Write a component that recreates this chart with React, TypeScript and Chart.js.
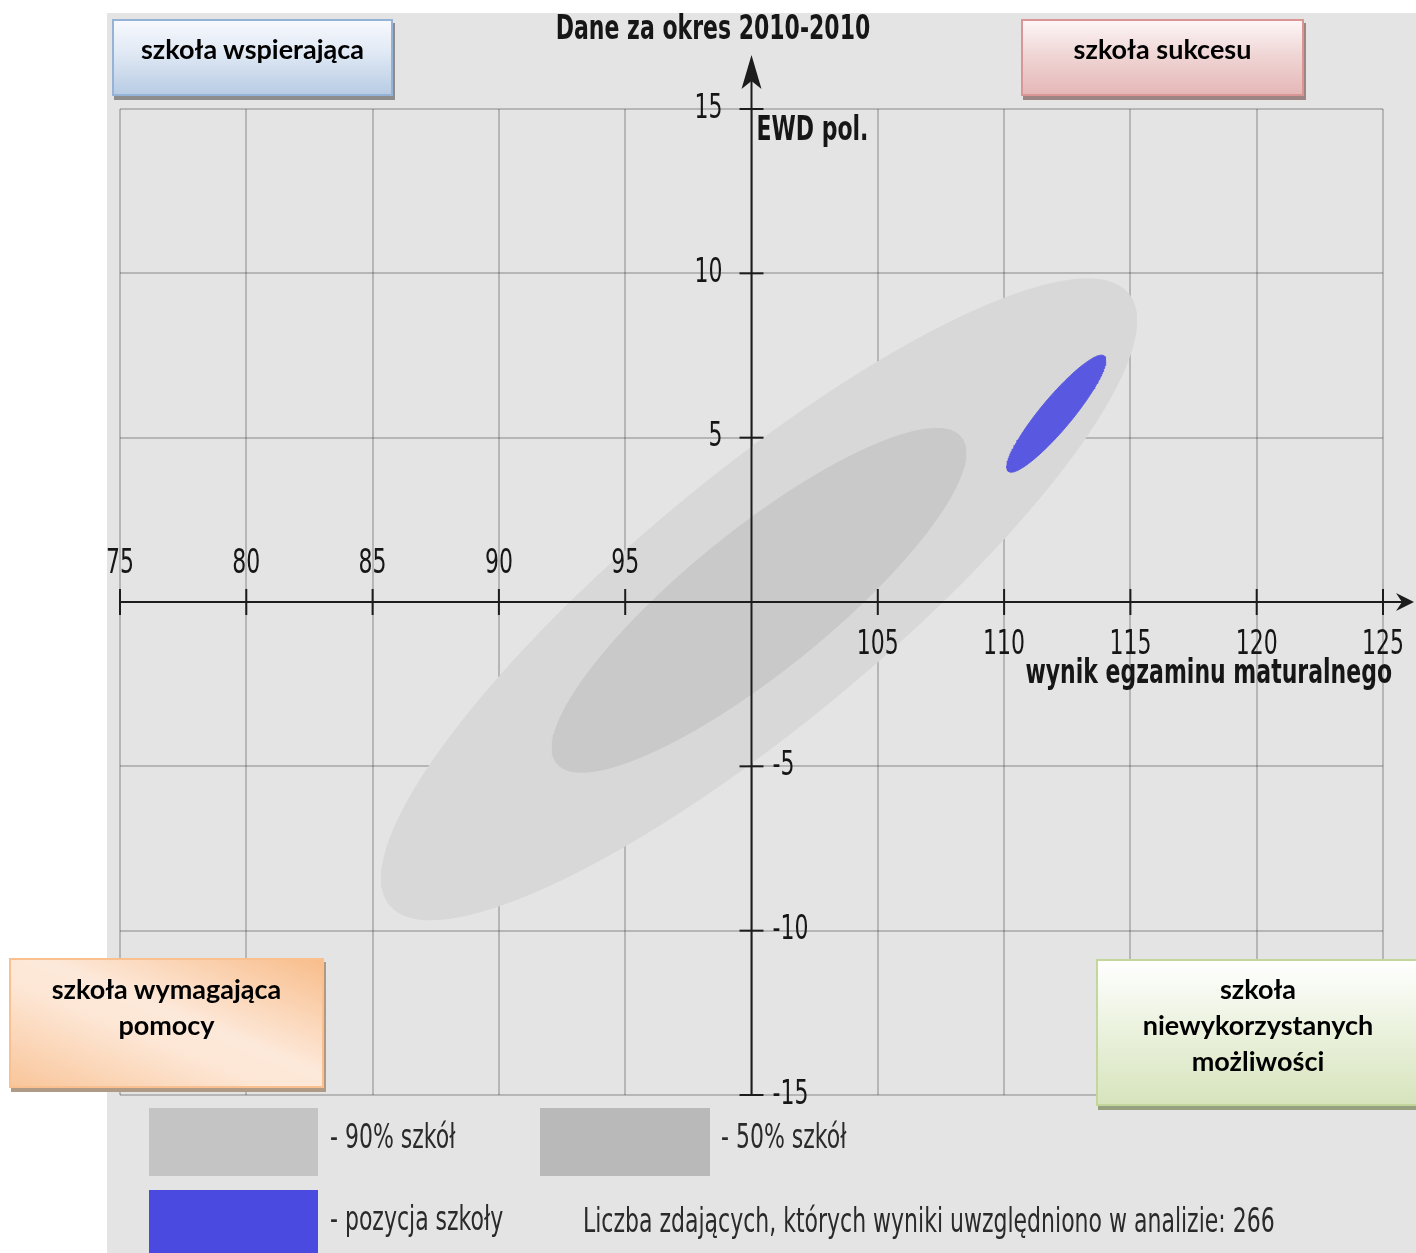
import React, { useEffect, useRef } from 'react';
import { Chart, registerables } from 'chart.js';

Chart.register(...registerables);

// ---- data ----
const xTicks = [75, 80, 85, 90, 95, 100, 105, 110, 115, 120, 125];
const yTicks = [-15, -10, -5, 0, 5, 10, 15];
const seriesNames = ['pozycja szkoły', '50% szkół', '90% szkół'];
const centerX = [112.07, 100.3, 100.3];
const centerY = [5.73, 0.05, 0.08];
const halfWidthX = [1.96, 8.19, 14.95];
const halfHeightY = [1.78, 5.23, 9.75];
const correlation = [0.912, 0.858, 0.87];
const studentCount = 266;
const chartTitle = 'Dane za okres 2010-2010';
const xAxisTitle = 'wynik egzaminu maturalnego';
const yAxisTitle = 'EWD pol.';
const cornerLabels = [
  'szkoła wspierająca',
  'szkoła sukcesu',
  'szkoła wymagająca pomocy',
  'szkoła niewykorzystanych możliwości',
];

const fillColors = ['#5858e0', '#c9c9c9', '#d8d8d8'];
const legendColors = ['#4a4ae0', '#b9b9b9', '#c4c4c4'];

function ellipseOutline(i: number) {
  const pts: { x: number; y: number }[] = [];
  const r = correlation[i];
  const k = Math.sqrt(1 - r * r);
  const steps = 240;
  for (let j = 0; j <= steps; j++) {
    const t = (j / steps) * Math.PI * 2;
    pts.push({
      x: centerX[i] + halfWidthX[i] * Math.cos(t),
      y: centerY[i] + halfHeightY[i] * (r * Math.cos(t) + k * Math.sin(t)),
    });
  }
  return pts;
}

const FONT = "'DejaVu Sans', 'Liberation Sans', sans-serif";
const STRETCH = 1.5;

function stretchedText(
  ctx: CanvasRenderingContext2D,
  text: string,
  x: number,
  y: number,
  align: CanvasTextAlign,
  bold: boolean,
  size = 22,
  color = '#161616'
) {
  ctx.save();
  ctx.translate(x, y);
  ctx.scale(1, STRETCH);
  ctx.font = `${bold ? 'bold ' : ''}${size}px ${FONT}`;
  ctx.textAlign = align;
  ctx.textBaseline = 'middle';
  ctx.fillStyle = color;
  ctx.fillText(text, 0, 0);
  ctx.restore();
}

const axesPlugin = {
  id: 'centralAxes',
  afterDraw(chart: any) {
    const ctx: CanvasRenderingContext2D = chart.ctx;
    const xs = chart.scales.x;
    const ys = chart.scales.y;
    const ca = chart.chartArea;
    const y0 = ys.getPixelForValue(0);
    const x0 = xs.getPixelForValue(100);

    ctx.save();
    ctx.strokeStyle = '#1c1c1c';
    ctx.fillStyle = '#1c1c1c';
    ctx.lineWidth = 2;

    // horizontal axis
    const xTip = ca.right + 31;
    ctx.beginPath();
    ctx.moveTo(ca.left, y0);
    ctx.lineTo(xTip - 6, y0);
    ctx.stroke();
    ctx.beginPath();
    ctx.moveTo(xTip, y0);
    ctx.lineTo(xTip - 18, y0 - 9);
    ctx.lineTo(xTip - 12, y0);
    ctx.lineTo(xTip - 18, y0 + 9);
    ctx.closePath();
    ctx.fill();

    // vertical axis
    const yTip = ca.top - 54;
    ctx.beginPath();
    ctx.moveTo(x0, ca.bottom);
    ctx.lineTo(x0, yTip + 8);
    ctx.stroke();
    ctx.beginPath();
    ctx.moveTo(x0, yTip);
    ctx.lineTo(x0 - 10, yTip + 34);
    ctx.lineTo(x0, yTip + 26);
    ctx.lineTo(x0 + 10, yTip + 34);
    ctx.closePath();
    ctx.fill();

    // ticks on horizontal axis
    xTicks.forEach((v) => {
      if (v === 100) return;
      const px = xs.getPixelForValue(v);
      ctx.beginPath();
      ctx.moveTo(px, y0 - 13);
      ctx.lineTo(px, y0 + 13);
      ctx.stroke();
      if (v < 100) stretchedText(ctx, String(v), px, y0 - 38, 'center', false);
      else stretchedText(ctx, String(v), px, y0 + 43, 'center', false);
    });

    // ticks on vertical axis
    yTicks.forEach((v) => {
      if (v === 0) return;
      const py = ys.getPixelForValue(v);
      ctx.beginPath();
      ctx.moveTo(x0 - 12, py);
      ctx.lineTo(x0 + 12, py);
      ctx.stroke();
      if (v > 0) stretchedText(ctx, String(v), x0 - 29, py, 'right', false);
      else stretchedText(ctx, String(v), x0 + 21, py, 'left', false);
    });
    ctx.restore();

    // axis titles and chart title
    stretchedText(ctx, yAxisTitle, x0 + 5, ca.top + 22, 'left', true);
    stretchedText(ctx, xAxisTitle, ca.right + 9, y0 + 72, 'right', true);
    stretchedText(ctx, chartTitle, 606, 17, 'center', true);

    // legend
    const lx = ca.left;
    const lb = ca.bottom;
    const legendPos = [
      { sx: lx + 29, sy: lb + 95, w: 169, h: 80, tx: lx + 210, ty: lb + 126 },
      { sx: lx + 420, sy: lb + 13, w: 170, h: 68, tx: lx + 601, ty: lb + 44 },
      { sx: lx + 29, sy: lb + 13, w: 169, h: 68, tx: lx + 210, ty: lb + 44 },
    ];
    legendPos.forEach((p, i) => {
      ctx.fillStyle = legendColors[i];
      ctx.fillRect(p.sx, p.sy, p.w, p.h);
      stretchedText(ctx, '- ' + seriesNames[i], p.tx, p.ty, 'left', false, 22, '#2a2a2a');
    });
    stretchedText(
      ctx,
      `Liczba zdających, których wyniki uwzględniono w analizie: ${studentCount}`,
      lx + 463,
      lb + 128,
      'left',
      false,
      22,
      '#2a2a2a'
    );
  },
};

function CornerBox(props: {
  left: number;
  top: number;
  width: number;
  height: number;
  bg: string;
  border: string;
  shadow: string;
  text: string;
  lines?: string[];
  padTop: number;
}) {
  const lines = props.lines || [props.text];
  return (
    <div
      style={{
        position: 'absolute',
        left: props.left,
        top: props.top,
        width: props.width,
        height: props.height,
        boxSizing: 'border-box',
        background: props.bg,
        border: `2px solid ${props.border}`,
        boxShadow: props.shadow,
        paddingTop: props.padTop,
        textAlign: 'center',
        fontFamily: "Lato, 'Open Sans', sans-serif",
        fontWeight: 700,
        fontSize: 27,
        lineHeight: '36px',
        color: '#000',
        zIndex: 2,
      }}
    >
      {lines.map((l, i) => (
        <div key={i}>{l}</div>
      ))}
    </div>
  );
}

export default function App() {
  const canvasRef = useRef<HTMLCanvasElement | null>(null);

  useEffect(() => {
    if (!canvasRef.current) return;
    const datasets = seriesNames.map((name, i) => ({
      label: name,
      data: ellipseOutline(i),
      showLine: true,
      fill: 'shape' as const,
      backgroundColor: fillColors[i],
      borderColor: fillColors[i],
      borderWidth: 1,
      pointRadius: 0,
      pointHoverRadius: 0,
      tension: 0,
    }));
    const chart = new Chart(canvasRef.current, {
      type: 'scatter',
      data: { datasets },
      options: {
        animation: false,
        responsive: false,
        events: [],
        layout: { padding: { left: 13, top: 96, right: 33, bottom: 158 } },
        plugins: {
          legend: { display: false },
          tooltip: { enabled: false },
          title: { display: false },
        },
        scales: {
          x: {
            type: 'linear',
            min: xTicks[0],
            max: xTicks[xTicks.length - 1],
            z: 1,
            afterBuildTicks: (scale: any) => {
              scale.ticks = xTicks.map((v) => ({ value: v }));
            },
            afterFit: (scale: any) => {
              scale.height = 0;
            },
            ticks: { display: false },
            border: { display: false },
            grid: { color: 'rgba(0,0,0,0.2)', lineWidth: 2, drawTicks: false },
          },
          y: {
            type: 'linear',
            min: yTicks[0],
            max: yTicks[yTicks.length - 1],
            z: 1,
            afterBuildTicks: (scale: any) => {
              scale.ticks = yTicks.map((v) => ({ value: v }));
            },
            afterFit: (scale: any) => {
              scale.width = 0;
            },
            ticks: { display: false },
            border: { display: false },
            grid: { color: 'rgba(0,0,0,0.2)', lineWidth: 2, drawTicks: false },
          },
        },
      } as any,
      plugins: [axesPlugin],
    });
    return () => chart.destroy();
  }, []);

  return (
    <div
      style={{
        position: 'absolute',
        left: 0,
        top: 0,
        width: 1416,
        height: 1253,
        overflow: 'hidden',
        background: '#ffffff',
      }}
    >
      <canvas
        ref={canvasRef}
        width={1309}
        height={1240}
        style={{ position: 'absolute', left: 107, top: 13, width: 1309, height: 1240, background: '#e4e4e4' }}
      />
      <CornerBox
        left={112}
        top={19}
        width={281}
        height={77}
        bg="linear-gradient(to bottom, #f7f9fd 0%, #dfe8f4 45%, #b8cce4 100%)"
        border="#95b3d7"
        shadow="2px 4px 0 #8d8d8d"
        text={cornerLabels[0]}
        padTop={10}
      />
      <CornerBox
        left={1021}
        top={19}
        width={283}
        height={77}
        bg="linear-gradient(to bottom, #fdf6f6 0%, #f0d6d6 45%, #e5b8b7 100%)"
        border="#d99694"
        shadow="2px 4px 0 #9f8484"
        text={cornerLabels[1]}
        padTop={10}
      />
      <CornerBox
        left={9}
        top={958}
        width={315}
        height={130}
        bg="linear-gradient(to bottom left, #f8bd8b 0%, #fde9da 45%, #fde6d4 60%, #f9c69b 100%)"
        border="#fac090"
        shadow="2px 4px 0 #b09a86"
        text={cornerLabels[2]}
        lines={['szkoła wymagająca', 'pomocy']}
        padTop={11}
      />
      <CornerBox
        left={1096}
        top={959}
        width={324}
        height={147}
        bg="linear-gradient(to bottom, #ffffff 0%, #eef4e3 40%, #d7e4bd 100%)"
        border="#c3d69b"
        shadow="2px 4px 0 #98a17f"
        text={cornerLabels[3]}
        lines={['szkoła', 'niewykorzystanych', 'możliwości']}
        padTop={10}
      />
    </div>
  );
}
